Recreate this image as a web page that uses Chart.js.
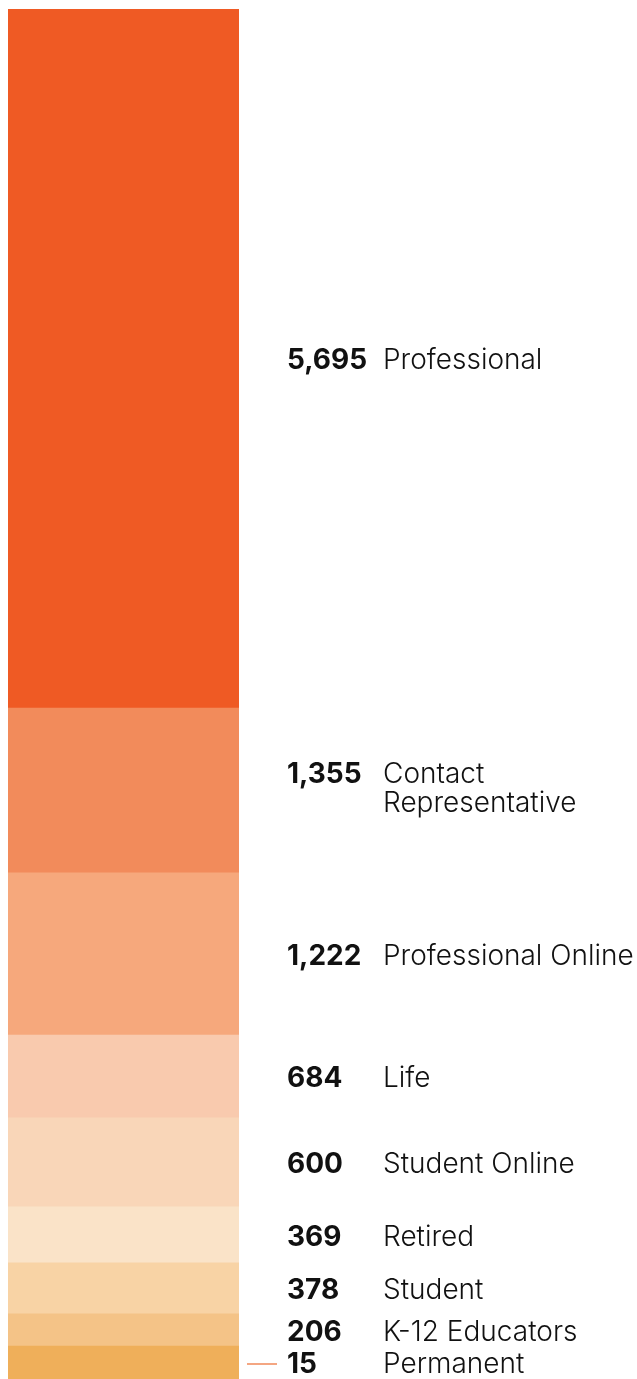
<!DOCTYPE html>
<html>
<head>
<meta charset="utf-8">
<script src="https://cdn.jsdelivr.net/npm/chart.js@4/dist/chart.umd.min.js"></script>
<style>
  html, body { margin: 0; padding: 0; background: #ffffff; }
  .wrap { position: relative; width: 637px; height: 1379px; }
</style>
</head>
<body>
<div class="wrap"><canvas id="chart"></canvas></div>
<script>
// Membership by category, one stacked column, labelled on the right.

const categories = ['Professional', 'Contact Representative', 'Professional Online', 'Life',
    'Student Online', 'Retired', 'Student', 'K-12 Educators', 'Permanent'];
const members = [5695, 1355, 1222, 684, 600, 369, 378, 206, 15];
// extent of each band as drawn in the source (small groups are enlarged there)
const bandValues = [5695, 1344, 1320, 676, 725, 456, 416, 261, 269];
const bandColors = ['#ef5a24', '#f28b5b', '#f6a87c', '#f9caae', '#f9d6b8',
    '#fae3c8', '#f8d3a5', '#f4c387', '#efaf5a'];

const labelPlugin = {
    id: 'sideLabels',
    afterDatasetsDraw: function (chart) {
        const ctx = chart.ctx;
        const area = chart.chartArea;
        ctx.save();
        ctx.textBaseline = 'middle';
        ctx.textAlign = 'left';
        chart.data.datasets.forEach(function (ds, d) {
            const i = categories.indexOf(ds.label);
            const el = chart.getDatasetMeta(d).data[0];
            const mid = (el.y + el.base) / 2;
            const lines = i === 1 ? ['Contact', 'Representative'] : [categories[i]];
            const top = lines.length > 1 ? mid - 16 : mid + 2.5;
            ctx.fillStyle = '#111111';
            ctx.font = 'bold 28px Inter';
            ctx.fillText(members[i].toLocaleString('en-US'), area.right + 48, top);
            ctx.font = '300 28px Inter';
            lines.forEach(function (t, k) {
                ctx.fillText(t, area.right + 144, top + k * 29);
            });
            if (i === categories.length - 1) {
                ctx.strokeStyle = '#f4a682';
                ctx.lineWidth = 2;
                ctx.beginPath();
                ctx.moveTo(area.right + 8, top - 1);
                ctx.lineTo(area.right + 38, top - 1);
                ctx.stroke();
            }
        });
        ctx.restore();
    }
};

new Chart(document.getElementById('chart'), {
    type: 'bar',
    data: {
        labels: ['Members'],
        datasets: categories.map(function (c, i) {
            return {
                label: c,
                data: [bandValues[i]],
                backgroundColor: bandColors[i],
                borderWidth: 0,
                barPercentage: 1,
                categoryPercentage: 1
            };
        }).reverse()
    },
    options: {
        responsive: true,
        maintainAspectRatio: false,
        animation: false,
        layout: { padding: { left: 8, right: 398, top: 9, bottom: 0 } },
        scales: {
            x: { stacked: true, display: false },
            y: { stacked: true, display: false, min: 0,
                 max: bandValues.reduce(function (a, b) { return a + b; }, 0) }
        },
        plugins: { legend: { display: false }, tooltip: { enabled: false } }
    },
    plugins: [labelPlugin]
});
</script>
</body>
</html>
